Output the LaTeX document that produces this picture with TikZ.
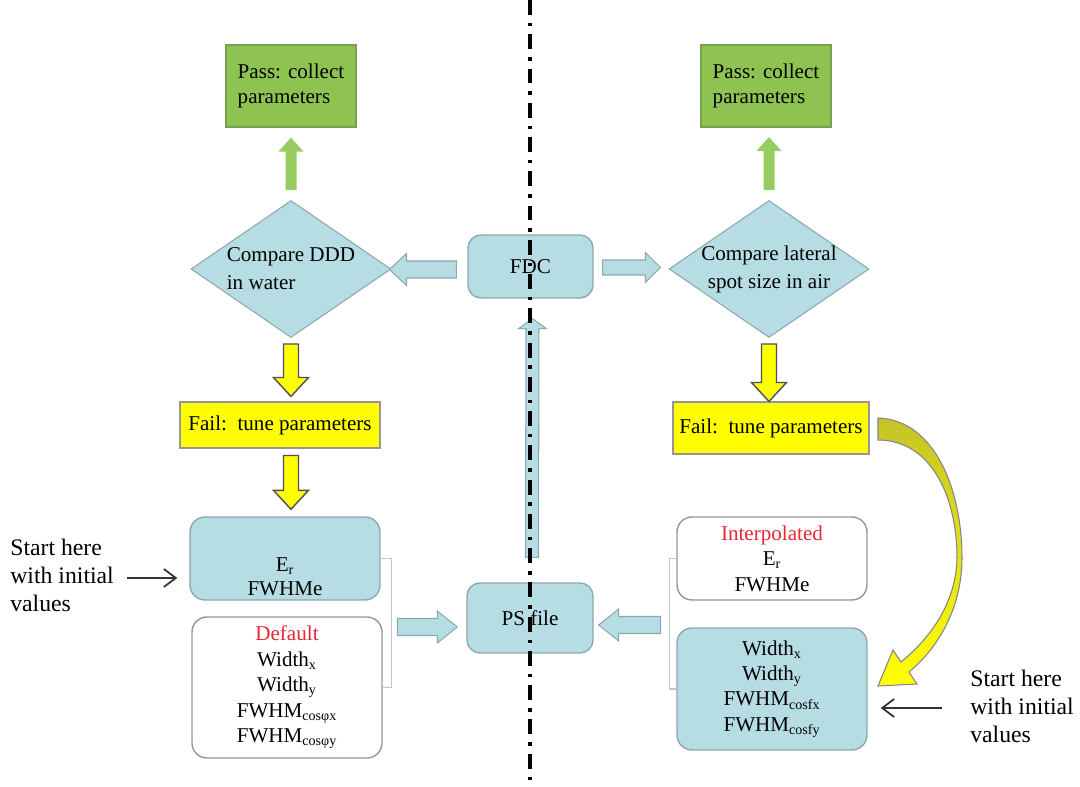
\documentclass[tikz,border=0pt]{standalone}
\usepackage{fontspec}
\setmainfont{Liberation Serif}
\usetikzlibrary{shapes.geometric,calc,arrows.meta}

\definecolor{boxblue}{RGB}{183,221,228}
\definecolor{boxblueline}{RGB}{140,168,174}
\definecolor{passgreen}{RGB}{142,195,82}
\definecolor{passgreenline}{RGB}{120,160,80}
\definecolor{arrgreen}{RGB}{150,204,96}
\definecolor{failyellow}{RGB}{255,255,0}
\definecolor{yellowline}{RGB}{85,75,95}
\definecolor{greyline}{RGB}{150,150,150}
\definecolor{bracketgrey}{RGB}{188,202,206}
\definecolor{textred}{RGB}{230,40,50}
\definecolor{curvetop}{RGB}{196,196,40}

% block arrow: style, from, to, half shaft, half head, head length
\newcommand{\blockarrow}[6]{%
  \coordinate (ba-s) at (#2);
  \coordinate (ba-e) at (#3);
  \coordinate (ba-h) at ($(ba-e)!#6!(ba-s)$);
  \path[#1] ($(ba-s)!#4!90:(ba-e)$) -- ($(ba-h)!#4!90:(ba-e)$)
    -- ($(ba-h)!#5!90:(ba-e)$) -- (ba-e) -- ($(ba-h)!#5!-90:(ba-e)$)
    -- ($(ba-h)!#4!-90:(ba-e)$) -- ($(ba-s)!#4!-90:(ba-e)$) -- cycle;
}

\begin{document}
\begin{tikzpicture}[x=0.02cm,y=-0.02cm,
    every node/.style={font=\fontsize{12}{14.5}\selectfont},
    bluebox/.style={draw=boxblueline,fill=boxblue,rounded corners=0.3cm,line width=0.8pt},
    whitebox/.style={draw=greyline,fill=white,rounded corners=0.3cm,line width=0.8pt},
    passbox/.style={draw=passgreenline,fill=passgreen,align=left,minimum width=2.6cm,
                    minimum height=1.64cm,line width=0.6pt},
    failbox/.style={draw=greyline,fill=failyellow,line width=0.6pt},
    decision/.style={diamond,draw=boxblueline,fill=boxblue,minimum width=4cm,
                     minimum height=2.74cm,inner sep=0pt,line width=0.6pt},
    greenarr/.style={fill=arrgreen},
    yellowarr/.style={fill=failyellow,draw=yellowline,line width=0.8pt},
    bluearr/.style={fill=boxblue,draw=boxblueline,line width=0.6pt},
    starttext/.style={align=left,font=\fontsize{13.5}{16}\selectfont,inner sep=0pt},
    startarr/.style={draw=black!80,line width=1pt,-{Straight Barb[length=2.4mm,width=3.6mm]}},
    bracket/.style={draw=bracketgrey,line width=0.9pt}]

  \useasboundingbox (0,0) rectangle (1080,787);

  % top row
  \node[passbox] (passL) at (291,86) {Pass: collect\\parameters};
  \node[passbox] (passR) at (766,86) {Pass: collect\\parameters};

  \node[decision,label={[align=left,font=\fontsize{12}{16}\selectfont]center:Compare DDD\\in water}] (dL) at (291,269) {};
  \node[decision,label={[align=center,font=\fontsize{12}{16}\selectfont]center:Compare lateral\\spot size in air}] (dR) at (769,269) {};
  \node[bluebox,minimum width=2.5cm,minimum height=1.26cm,rounded corners=0.26cm] (fdc) at (530.5,266.5) {FDC};

  \node[failbox,minimum width=4cm,minimum height=0.92cm] (failL) at (280,425) {Fail:\ \ tune parameters};
  \node[failbox,minimum width=3.92cm,minimum height=1.04cm] (failR) at (771,428) {Fail:\ \ tune parameters};

  % parameter boxes
  \node[bluebox,minimum width=3.8cm,minimum height=1.66cm,
        label={[align=center,yshift=-0.36cm]center:E\textsubscript{r}\\[-1pt]FWHMe}] (Er) at (285,558.5) {};
  \node[whitebox,minimum width=3.8cm,minimum height=2.82cm,align=center] (dflt) at (287,687.5)
    {\textcolor{textred}{Default}\\Width\textsubscript{x}\\Width\textsubscript{y}\\FWHM\textsubscript{cosφx}\\FWHM\textsubscript{cosφy}};
  \node[whitebox,minimum width=3.8cm,minimum height=1.66cm,align=center] (interp) at (772,558.5)
    {\textcolor{textred}{Interpolated}\\E\textsubscript{r}\\FWHMe};
  \node[bluebox,minimum width=3.8cm,minimum height=2.44cm,align=center] (widR) at (772,689)
    {Width\textsubscript{x}\\Width\textsubscript{y}\\FWHM\textsubscript{cosfx}\\FWHM\textsubscript{cosfy}};
  \node[bluebox,minimum width=2.52cm,minimum height=1.4cm,rounded corners=0.26cm] (ps) at (530,618) {PS file};

  \node[starttext,anchor=west] (startL) at (10,575) {Start here\\with initial\\values};
  \node[starttext,anchor=west] (startR) at (970,706) {Start here\\with initial\\values};

  % brackets
  \draw[bracket] (Er.east) -- ++(11,0) |- (dflt.east);
  \draw[bracket] (interp.west) -- ++(-7,0) |- (widR.west);

  % block arrows
  \blockarrow{greenarr}{$(dL.north)+(0,-10)$}{$(passL.south)+(0,10)$}{0.11cm}{0.25cm}{0.28cm}
  \blockarrow{greenarr}{$(dR.north)+(0,-10)$}{$(dL.north -| dR.north)+(0,-63)$}{0.11cm}{0.25cm}{0.28cm}
  \blockarrow{yellowarr}{$(dL.south)+(0,6)$}{$(dL.south |- failL.north)+(0,-5)$}{0.15cm}{0.35cm}{0.38cm}
  \blockarrow{yellowarr}{$(dL.south |- failL.south)+(0,7)$}{$(dL.south |- Er.north)+(0,-7)$}{0.15cm}{0.35cm}{0.38cm}
  \blockarrow{yellowarr}{$(dR.south)+(0,6)$}{dR.south |- failR.north}{0.15cm}{0.35cm}{0.38cm}
  \blockarrow{bluearr}{$(fdc.west)+(-11,3)$}{$(fdc.west -| dL.east)+(-2,3)$}{0.17cm}{0.32cm}{0.34cm}
  \blockarrow{bluearr}{$(fdc.east)+(9,1)$}{$(fdc.east -| dR.west)+(-8,1)$}{0.15cm}{0.3cm}{0.3cm}
  \blockarrow{bluearr}{$(ps.north)+(2,-25)$}{$(fdc.south)+(2,20)$}{0.13cm}{0.28cm}{0.2cm}
  \blockarrow{bluearr}{$(ps.west)+(-69,9)$}{$(ps.west)+(-9,9)$}{0.17cm}{0.32cm}{0.4cm}
  \blockarrow{bluearr}{$(ps.east)+(67,7)$}{$(ps.east)+(5,7)$}{0.17cm}{0.32cm}{0.4cm}

  % curved arrow from fail to the right box
  \path[draw=yellowline!70,line width=0.6pt,top color=curvetop,bottom color=failyellow]
    (878,418) .. controls (935,420) and (962,490) .. (962,558)
    .. controls (962,610) and (936,650) .. (909,672)
    -- (917,684) -- (878,686) -- (893,650) -- (901,662)
    .. controls (928,640) and (956,605) .. (957,558)
    .. controls (957,495) and (930,440) .. (878,440) -- cycle;

  % start arrows
  \draw[startarr,shorten <=0.26cm,shorten >=0.24cm] ($(startL.east)+(0,3)$) -- ($(startL.east -| Er.west)+(0,3)$);
  \draw[startarr,shorten <=0.56cm,shorten >=0.26cm] ($(startR.west)+(0,2)$) -- ($(startR.west -| widR.east)+(0,2)$);

  % dash-dot axis
  \draw[line width=2.3pt,dash pattern=on 8.5pt off 4.5pt on 2pt off 4.5pt] (530,0) -- (530,787);
\end{tikzpicture}
\end{document}
